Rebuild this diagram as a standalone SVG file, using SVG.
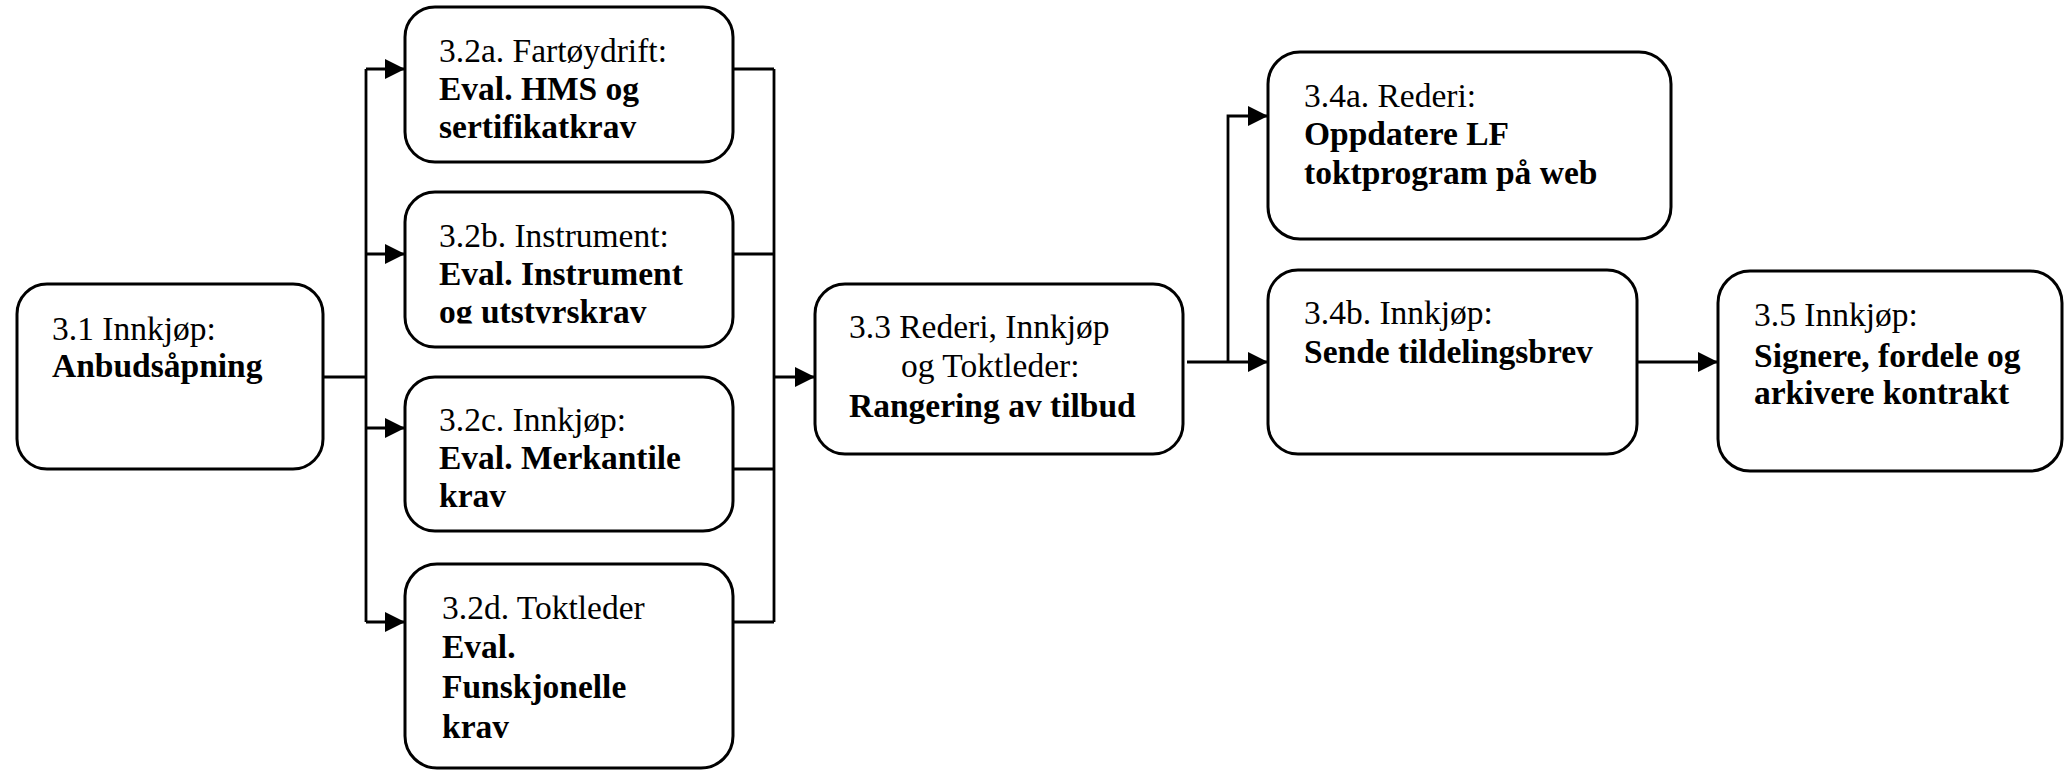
<svg xmlns="http://www.w3.org/2000/svg" width="2064" height="770" viewBox="0 0 2064 770">
<style>
.box{fill:#fff;stroke:#000;stroke-width:3}
.ln{fill:none;stroke:#000;stroke-width:2.8}
text{font-family:"Liberation Serif","Times New Roman",serif;font-size:33.5px;fill:#000}
.b{font-weight:bold}
</style>
<defs>
<marker id="ah" markerUnits="userSpaceOnUse" markerWidth="20" markerHeight="20" refX="20" refY="10" orient="auto">
<path d="M0,0 L20,10 L0,20 z" fill="#000"/>
</marker>
<clipPath id="clipb"><rect x="405" y="192" width="328" height="131.5"/></clipPath>
</defs>
<rect width="2064" height="770" fill="#fff"/>
<g id="connectors">
<path class="ln" d="M323,377 H366"/>
<path class="ln" d="M366,69 V622"/>
<path class="ln" d="M366,69 H405" marker-end="url(#ah)"/>
<path class="ln" d="M366,254 H405" marker-end="url(#ah)"/>
<path class="ln" d="M366,428 H405" marker-end="url(#ah)"/>
<path class="ln" d="M366,622 H405" marker-end="url(#ah)"/>
<path class="ln" d="M733,69 H774 M733,254 H774 M733,469 H774 M733,622 H774 M774,69 V622"/>
<path class="ln" d="M774,377 H815" marker-end="url(#ah)"/>
<path class="ln" style="stroke-width:3.2" d="M1187,362 H1268" marker-end="url(#ah)"/>
<path class="ln" d="M1228,362 V116 H1268" marker-end="url(#ah)"/>
<path class="ln" d="M1637,362 H1718" marker-end="url(#ah)"/>
</g>
<g id="n31">
<rect class="box" x="17" y="284" width="306" height="185" rx="30"/>
<text x="52" y="340">3.1 Innkjøp:</text>
<text class="b" x="52" y="377">Anbudsåpning</text>
</g>
<g id="n32a">
<rect class="box" x="405" y="7" width="328" height="155" rx="30"/>
<text x="439" y="62">3.2a. Fartøydrift:</text>
<text class="b" x="439" y="100">Eval. HMS og</text>
<text class="b" x="439" y="138">sertifikatkrav</text>
</g>
<g id="n32b">
<rect class="box" x="405" y="192" width="328" height="155" rx="30"/>
<g clip-path="url(#clipb)">
<text x="439" y="247">3.2b. Instrument:</text>
<text class="b" x="439" y="285">Eval. Instrument</text>
<text class="b" x="439" y="323">og utstyrskrav</text>
</g>
</g>
<g id="n32c">
<rect class="box" x="405" y="377" width="328" height="154" rx="30"/>
<text x="439" y="431">3.2c. Innkjøp:</text>
<text class="b" x="439" y="469">Eval. Merkantile</text>
<text class="b" x="439" y="507">krav</text>
</g>
<g id="n32d">
<rect class="box" x="405" y="564" width="328" height="204" rx="32"/>
<text x="442" y="619">3.2d. Toktleder</text>
<text class="b" x="442" y="658">Eval.</text>
<text class="b" x="442" y="698">Funskjonelle</text>
<text class="b" x="442" y="738">krav</text>
</g>
<g id="n33">
<rect class="box" x="815" y="284" width="368" height="170" rx="30"/>
<text x="849" y="338">3.3 Rederi, Innkjøp</text>
<text x="901" y="377">og Toktleder:</text>
<text class="b" x="849" y="417">Rangering av tilbud</text>
</g>
<g id="n34a">
<rect class="box" x="1268" y="52" width="403" height="187" rx="32"/>
<text x="1304" y="107">3.4a. Rederi:</text>
<text class="b" x="1304" y="145">Oppdatere LF</text>
<text class="b" x="1304" y="184">toktprogram på web</text>
</g>
<g id="n34b">
<rect class="box" x="1268" y="270" width="369" height="184" rx="30"/>
<text x="1304" y="324">3.4b. Innkjøp:</text>
<text class="b" x="1304" y="363">Sende tildelingsbrev</text>
</g>
<g id="n35">
<rect class="box" x="1718" y="271" width="344" height="200" rx="32"/>
<text x="1754" y="326">3.5 Innkjøp:</text>
<text class="b" x="1754" y="367">Signere, fordele og</text>
<text class="b" x="1754" y="404">arkivere kontrakt</text>
</g>
</svg>
